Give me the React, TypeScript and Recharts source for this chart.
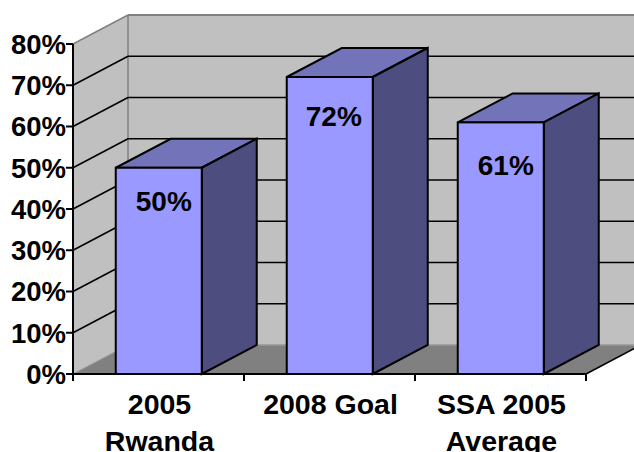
import { Bar, BarChart, CartesianGrid, LabelList, XAxis, YAxis } from "recharts";

const CATEGORIES = ["2005\nRwanda", "2008 Goal", "SSA 2005\nAverage"];
const VALUES = [0.5, 0.72, 0.61];
const Y_TICKS = [0, 0.1, 0.2, 0.3, 0.4, 0.5, 0.6, 0.7, 0.8];

const rows = CATEGORIES.map((name, i) => ({ name, value: VALUES[i] }));

// how far the box goes back, in px
const DX = 55;
const DY = 29;

const FONT = "'Liberation Sans', Arial, sans-serif";
const WALL = "#c0c0c0";
const WALL_EDGE = "#808080";
const FLOOR = "#808080";
const FRONT = "#9999ff";
const TOP = "#7373b9";
const SIDE = "#4d4d7f";

// the labels do not sit at one fixed distance below the bar tops
const LABEL_DROP = [34, 39, 43];
const LABEL_SHIFT = [5, 4, 5];

function pts(list: number[][]) {
  return list.map((p) => p.join(",")).join(" ");
}

// walls and floor go in with the first grid line, so they sit behind the others
function GridLine(props: any) {
  const { x1, x2, y1, index, y, height } = props;
  const top = y;
  const bottom = y + height;
  const back = x1 + DX;
  const isTop = y1 <= top + 0.5;
  const isBottom = y1 >= bottom - 0.5;
  return (
    <g>
      {index === 0 && (
        <g>
          <polygon
            points={pts([[x1, top], [back, top - DY], [back, bottom - DY], [x1, bottom]])}
            fill={WALL}
          />
          <rect x={back} y={top - DY} width={x2 - x1 + DX} height={height} fill={WALL} />
          <polygon
            points={pts([[x1, bottom], [back, bottom - DY], [x2 + DX, bottom - DY], [x2, bottom]])}
            fill={FLOOR}
          />
          <line x1={back} y1={bottom - DY} x2={x2 + DX} y2={bottom - DY} stroke="#999" strokeWidth={1.5} />
          <line x1={x1} y1={bottom} x2={back} y2={bottom - DY} stroke="#999" strokeWidth={1} />
          <line x1={back} y1={top - DY} x2={back} y2={bottom - DY} stroke={WALL_EDGE} strokeWidth={1.5} />
          <line x1={x1} y1={top} x2={back} y2={top - DY} stroke={WALL_EDGE} strokeWidth={1.5} />
          <line x1={back} y1={top - DY} x2={x2 + DX} y2={top - DY} stroke={WALL_EDGE} strokeWidth={2} />
          <line x1={x2} y1={bottom} x2={x2 + DX} y2={bottom - DY} stroke="#000" strokeWidth={1.6} />
        </g>
      )}
      {!isTop && !isBottom && (
        <g stroke="#000" strokeWidth={1.6}>
          <line x1={x1} y1={y1} x2={back} y2={y1 - DY} />
          <line x1={back} y1={y1 - DY} x2={x2 + DX} y2={y1 - DY} />
        </g>
      )}
    </g>
  );
}

function Box3D(props: any) {
  const { x, y, width, height } = props;
  const r = x + width;
  const b = y + height;
  return (
    <g stroke="#000" strokeWidth={2} strokeLinejoin="miter">
      <polygon points={pts([[x, y], [x + DX, y - DY], [r + DX, y - DY], [r, y]])} fill={TOP} />
      <polygon points={pts([[r, y], [r + DX, y - DY], [r + DX, b - DY], [r, b]])} fill={SIDE} />
      <rect x={x} y={y} width={width} height={height} fill={FRONT} />
    </g>
  );
}

function BarValue(props: any) {
  const { x, y, width, value, index } = props;
  return (
    <text
      x={x + width / 2 + LABEL_SHIFT[index]}
      y={y + LABEL_DROP[index]}
      textAnchor="middle"
      dominantBaseline="central"
      fontFamily={FONT}
      fontSize={28}
      fontWeight="bold"
      fill="#000"
    >
      {Math.round(value * 100)}%
    </text>
  );
}

function CategoryTick(props: any) {
  const { x, y, payload } = props;
  const half = payload.offset ?? 85.5;
  const axisY = y - 8;
  const lines = String(payload.value).split("\n");
  return (
    <g>
      <line x1={x - half} y1={axisY} x2={x - half} y2={axisY + 7} stroke="#000" strokeWidth={2} />
      <line x1={x + half} y1={axisY} x2={x + half} y2={axisY + 7} stroke="#000" strokeWidth={2} />
      {lines.map((t, i) => (
        <text
          key={t}
          x={x + 1}
          y={axisY + 30 + i * 37}
          textAnchor="middle"
          dominantBaseline="central"
          fontFamily={FONT}
          fontSize={28.5}
          fontWeight="bold"
          fill="#000"
        >
          {t}
        </text>
      ))}
    </g>
  );
}

export default function App() {
  return (
    <div style={{ position: "absolute", left: 0, top: 0, width: 634, height: 452, overflow: "hidden", background: "#fff" }}>
      <BarChart
        width={634}
        height={452}
        data={rows}
        margin={{ top: 44, right: 48, bottom: 0, left: 0 }}
        barCategoryGap="25%"
      >
        <CartesianGrid vertical={false} horizontal={(p: any) => <GridLine key={p.key} {...p} />} />
        <XAxis
          dataKey="name"
          height={78}
          interval={0}
          tickLine={false}
          axisLine={{ stroke: "#000", strokeWidth: 2 }}
          tick={<CategoryTick />}
        />
        <YAxis
          width={73}
          domain={[0, 0.8]}
          ticks={Y_TICKS}
          interval={0}
          tickSize={7}
          tickMargin={0}
          tickLine={{ stroke: "#000", strokeWidth: 2 }}
          axisLine={{ stroke: "#000", strokeWidth: 2 }}
          tickFormatter={(v: number) => `${Math.round(v * 100)}%`}
          tick={{ fill: "#000", fontFamily: FONT, fontSize: 27.5, fontWeight: "bold" }}
        />
        <Bar dataKey="value" shape={<Box3D />} isAnimationActive={false}>
          <LabelList dataKey="value" content={<BarValue />} />
        </Bar>
      </BarChart>
    </div>
  );
}
